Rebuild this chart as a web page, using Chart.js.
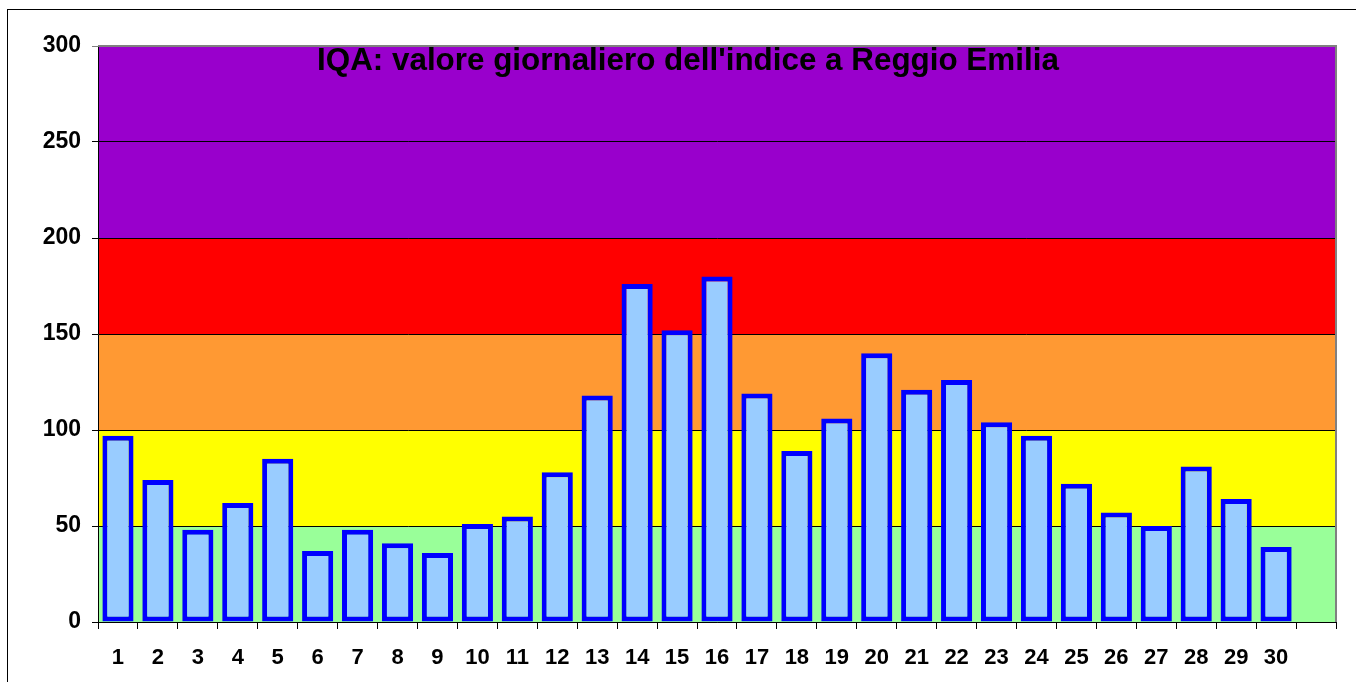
<!DOCTYPE html>
<html>
<head>
<meta charset="utf-8">
<script src="https://cdn.jsdelivr.net/npm/chart.js@4.4.0/dist/chart.umd.min.js"></script>
<style>
    html, body { margin: 0; padding: 0; background: #fff; overflow: hidden; }
    #frame { position: absolute; left: 7px; top: 9px; width: 1400px; height: 700px; border: 1px solid #000; }
    #wrap { position: absolute; left: 0; top: 0; width: 1356px; height: 682px; }
</style>
</head>
<body>
<div id="frame"></div>
<div id="wrap"><canvas id="iqaChart"></canvas></div>
<script>
// --- Data ---
const days = ['1','2','3','4','5','6','7','8','9','10','11','12','13','14','15','16','17','18','19','20','21','22','23','24','25','26','27','28','29','30',''];
const iqaValues = [97, 74, 48, 62, 85, 37, 48, 41, 36, 51, 55, 78, 118, 176, 152, 180, 119, 89, 106, 140, 121, 126, 104, 97, 72, 57, 50, 81, 64, 39, null];
const yTicks = [0, 50, 100, 150, 200, 250, 300];
const bandLimits = [0, 50, 100, 150, 200, 300];
const bandColors = ['#99FF99', '#FFFF00', '#FF9933', '#FF0000', '#9900CC'];
const chartTitle = "IQA: valore giornaliero dell'indice a Reggio Emilia";

const FONT = "'Liberation Sans', Arial, sans-serif";

// background bands + plot frame + title
const bandsPlugin = {
    id: 'bands',
    beforeDraw(chart) {
        const { ctx, chartArea, scales } = chart;
        ctx.save();
        for (let i = 0; i < bandColors.length; i++) {
            const yTop = scales.y.getPixelForValue(bandLimits[i + 1]);
            const yBot = scales.y.getPixelForValue(bandLimits[i]);
            ctx.fillStyle = bandColors[i];
            ctx.fillRect(chartArea.left, yTop, chartArea.right - chartArea.left, yBot - yTop);
        }
        ctx.restore();
    },
    afterDatasetsDraw(chart) {
        const { ctx, chartArea } = chart;
        ctx.save();
        ctx.strokeStyle = '#808080';
        ctx.lineWidth = 2;
        ctx.beginPath();
        ctx.moveTo(chartArea.left, chartArea.top);
        ctx.lineTo(chartArea.right, chartArea.top);
        ctx.lineTo(chartArea.right, chartArea.bottom);
        ctx.stroke();

        ctx.fillStyle = '#000';
        ctx.font = 'bold 31.4px ' + FONT;
        ctx.textAlign = 'left';
        ctx.textBaseline = 'alphabetic';
        ctx.fillText(chartTitle, 317, 70);
        ctx.restore();
    }
};

const ctx = document.getElementById('iqaChart');
new Chart(ctx, {
    type: 'bar',
    data: {
        labels: days,
        datasets: [{
            data: iqaValues,
            backgroundColor: '#99CCFF',
            borderColor: '#0000FF',
            borderWidth: 5,
            borderSkipped: false,
            categoryPercentage: 1,
            barPercentage: 0.78
        }]
    },
    options: {
        responsive: true,
        maintainAspectRatio: false,
        animation: false,
        layout: { padding: { top: 46, right: 20, left: 0, bottom: 0 } },
        plugins: {
            legend: { display: false },
            tooltip: { enabled: false }
        },
        scales: {
            x: {
                offset: true,
                grid: { offset: true, drawOnChartArea: false, drawTicks: true, tickLength: 7, color: '#000' },
                border: { color: '#000', width: 1 },
                ticks: {
                    autoSkip: false,
                    maxRotation: 0,
                    color: '#000',
                    padding: 16,
                    font: { family: FONT, size: 22, weight: 'bold' }
                },
                afterFit(scale) { scale.height = 60; }
            },
            y: {
                min: 0,
                max: 300,
                afterBuildTicks(scale) { scale.ticks = yTicks.map(v => ({ value: v })); },
                grid: {
                    color: c => (c.tick && c.tick.value === 300) ? '#808080' : '#000',
                    tickLength: 6,
                    drawTicks: true
                },
                border: { color: '#000', width: 1 },
                ticks: {
                    color: '#000',
                    padding: 11,
                    font: { family: FONT, size: 23, weight: 'bold' }
                },
                afterFit(scale) { scale.width = 98; }
            }
        }
    },
    plugins: [bandsPlugin]
});
</script>
</body>
</html>
